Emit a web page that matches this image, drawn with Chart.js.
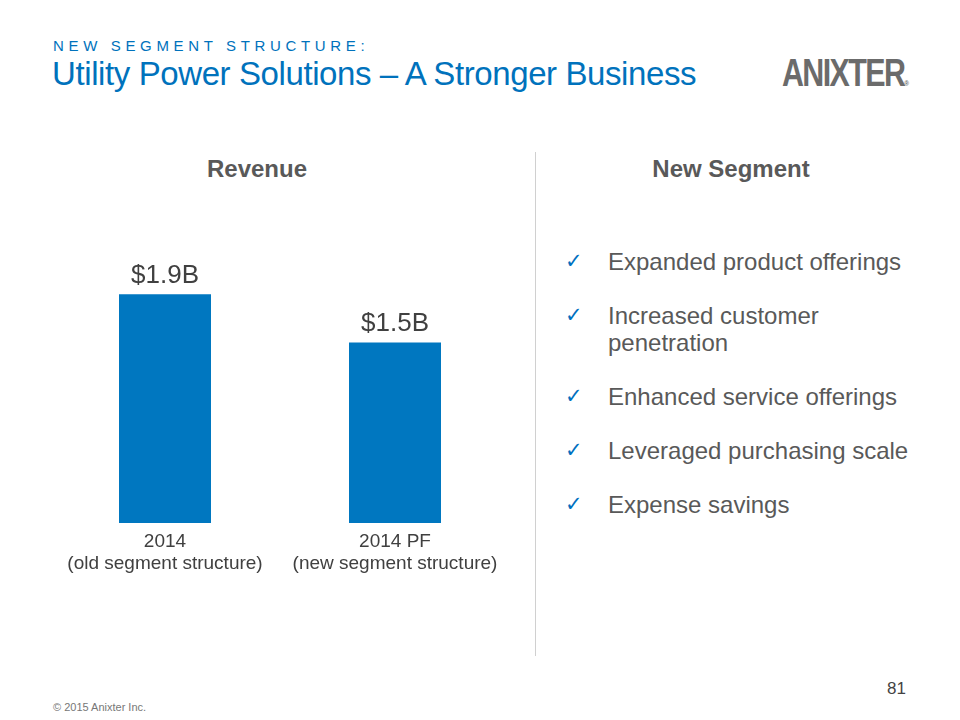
<!DOCTYPE html>
<html>
<head>
<meta charset="utf-8">
<script src="https://cdn.jsdelivr.net/npm/chart.js@4/dist/chart.umd.min.js"></script>
<style>
  html, body { margin:0; padding:0; background:#fff; }
  body { width:960px; height:720px; position:relative; overflow:hidden; font-family:"Liberation Sans", Arial, sans-serif; }
  .abs { position:absolute; white-space:nowrap; }
  #kicker { left:53px; top:37px; font-size:15px; letter-spacing:4.65px; color:#0072BC; }
  #title { left:52px; top:55px; font-size:33px; color:#0072BC; letter-spacing:-0.4px; }
  #logo { left:782px; top:52px; font-family:"Liberation Sans","Arial",sans-serif; font-weight:900; font-size:38px; color:#6b6b6b; letter-spacing:-2px; transform:scaleX(0.8); transform-origin:left; }
  #logo sup { font-size:8px; vertical-align:baseline; letter-spacing:0; }
  .head { top:155px; font-size:24px; font-weight:bold; color:#595959; transform:translateX(-50%); }
  #divider { left:535px; top:152px; width:1px; height:504px; background:#d0d0d0; }
  #bullets { left:565px; top:248px; font-size:24px; color:#595959; }
  .b { position:relative; padding-left:43px; line-height:27px; margin-bottom:27px; white-space:normal; width:310px; }
  .b .ck { position:absolute; left:0; top:0px; color:#0070C0; font-family:"DejaVu Sans",sans-serif; font-weight:bold; font-size:21px; }
  #copy { left:53px; top:701px; font-size:11px; color:#777; }
  #page { left:887px; top:679px; font-size:17px; color:#444; }
  #wrap { position:absolute; left:50px; top:150px; width:460px; height:433px; }
</style>
</head>
<body>
<div class="abs" id="kicker">NEW SEGMENT STRUCTURE:</div>
<div class="abs" id="title">Utility Power Solutions – A Stronger Business</div>
<div class="abs" id="logo">ANIXTER<sup>®</sup></div>
<div class="abs head" style="left:257px">Revenue</div>
<div class="abs head" style="left:731px">New Segment</div>
<div class="abs" id="divider"></div>
<div class="abs" id="bullets"></div>
<div class="abs" id="copy">© 2015 Anixter Inc.</div>
<div class="abs" id="page">81</div>
<div id="wrap"><canvas id="c"></canvas></div>
<script>
const categories = [["2014", "(old segment structure)"], ["2014 PF", "(new segment structure)"]];
const revenueBillions = [1.9, 1.5];
const bulletItems = ["Expanded product offerings", "Increased customer penetration", "Enhanced service offerings", "Leveraged purchasing scale", "Expense savings"];

const bl = document.getElementById('bullets');
bulletItems.forEach(t => {
  const d = document.createElement('div');
  d.className = 'b';
  d.innerHTML = '<span class="ck">✓</span>' + t;
  bl.appendChild(d);
});

const valueLabels = {
  id: 'valueLabels',
  afterDatasetsDraw(chart) {
    const ctx = chart.ctx;
    const meta = chart.getDatasetMeta(0);
    ctx.save();
    ctx.font = '26px "Liberation Sans", Arial, sans-serif';
    ctx.fillStyle = '#404040';
    ctx.textAlign = 'center';
    ctx.textBaseline = 'alphabetic';
    meta.data.forEach((bar, i) => {
      const v = chart.data.datasets[0].data[i];
      ctx.fillText('$' + v.toFixed(1) + 'B', bar.x, bar.y - 11);
    });
    ctx.restore();
  }
};

new Chart(document.getElementById('c'), {
  type: 'bar',
  data: {
    labels: categories,
    datasets: [{
      data: revenueBillions,
      backgroundColor: '#0077C0',
      barPercentage: 0.4,
      categoryPercentage: 1.0
    }]
  },
  options: {
    responsive: true,
    maintainAspectRatio: false,
    animation: false,
    layout: { padding: { top: 72, left: 0, right: 0, bottom: 0 } },
    plugins: { legend: { display: false }, tooltip: { enabled: false } },
    scales: {
      x: {
        grid: { display: false },
        border: { display: false },
        ticks: { color: '#404040', font: { size: 19, family: '"Liberation Sans", Arial, sans-serif' }, padding: -1, maxRotation: 0 },
        afterFit(s) { s.height = 60; }
      },
      y: {
        display: false,
        min: 0,
        max: 2.5
      }
    }
  },
  plugins: [valueLabels]
});
</script>
</body>
</html>
